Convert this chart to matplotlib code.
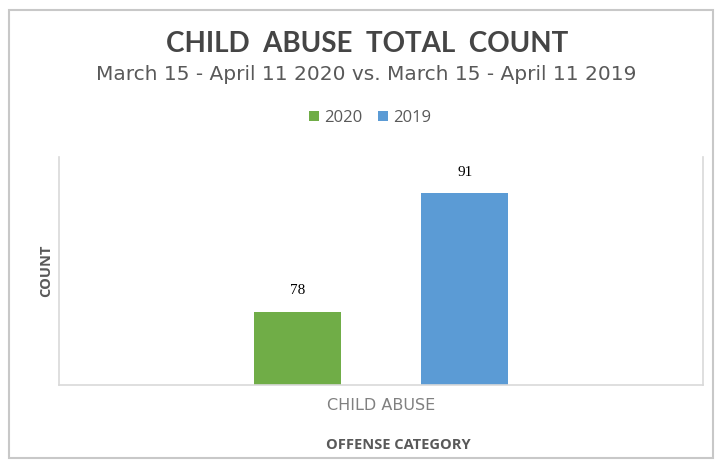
import matplotlib.pyplot as plt
from matplotlib.patches import Rectangle

# data
categories = ["CHILD ABUSE"]
series_names = ["2020", "2019"]
counts_2020 = [78]
counts_2019 = [91]
colors = ["#70ad47", "#5b9bd5"]

W, H = 717, 461
fig = plt.figure(figsize=(W / 100, H / 100), dpi=100)

# axes box in pixel coords (left, top, right, bottom) from the top-left
left, top, right, bottom = 59, 157, 703, 385
ax = fig.add_axes([left / W, 1 - bottom / H, (right - left) / W, (bottom - top) / H])

width = 0.135
offsets = [-0.13, 0.13]
for vals, name, col, off in zip([counts_2020, counts_2019], series_names, colors, offsets):
    xs = [i + off for i in range(len(categories))]
    bars = ax.bar(xs, vals, width=width, color=col, label=name, zorder=2)
    for b, v in zip(bars, vals):
        ax.text(b.get_x() + b.get_width() / 2, v + 1.6, str(v), ha="center", va="bottom",
                fontsize=11, family="Liberation Serif", color="#000000")

ax.set_xlim(-0.5, len(categories) - 0.5)
ax.set_ylim(70, 95)
ax.set_yticks([])
ax.set_xticks(range(len(categories)))
ax.set_xticklabels(categories, fontsize=11.5, color="#808080", family="DejaVu Sans")
ax.tick_params(axis="x", length=0, pad=9)
for s in ["left", "bottom", "right"]:
    ax.spines[s].set_color("#d9d9d9")
    ax.spines[s].set_linewidth(1.2)
ax.spines["top"].set_visible(False)

ax.set_ylabel("COUNT", fontsize=10.5, fontweight="bold", color="#595959", family="Open Sans",
              labelpad=4)
fig.text(398 / W, 1 - 445 / H, "OFFENSE CATEGORY", ha="center", va="center",
         fontsize=10.5, fontweight="bold", color="#595959", family="Open Sans")

# titles
fig.text(367 / W, 1 - 44 / H, "CHILD  ABUSE  TOTAL  COUNT", ha="center", va="center",
         fontsize=20, fontweight="bold", color="#454545", family="Lato")
fig.text(366 / W, 1 - 75 / H, "March 15 - April 11 2020 vs. March 15 - April 11 2019",
         ha="center", va="center", fontsize=14.5, color="#595959", family="DejaVu Sans")

leg = fig.legend(loc="center", bbox_to_anchor=(370 / W, 1 - 118 / H), ncol=2, frameon=False,
                 handlelength=0.6, handleheight=0.6, handletextpad=0.3, columnspacing=0.9,
                 prop={"family": "Open Sans", "size": 12})
for t in leg.get_texts():
    t.set_color("#595959")

# outer chart border
fig.patches.append(Rectangle((9 / W, 1 - 458 / H), (713 - 9) / W, (458 - 10) / H,
                             transform=fig.transFigure, fill=False, edgecolor="#c8c8c8",
                             linewidth=1.5))

fig.savefig("out.png", dpi=100)
